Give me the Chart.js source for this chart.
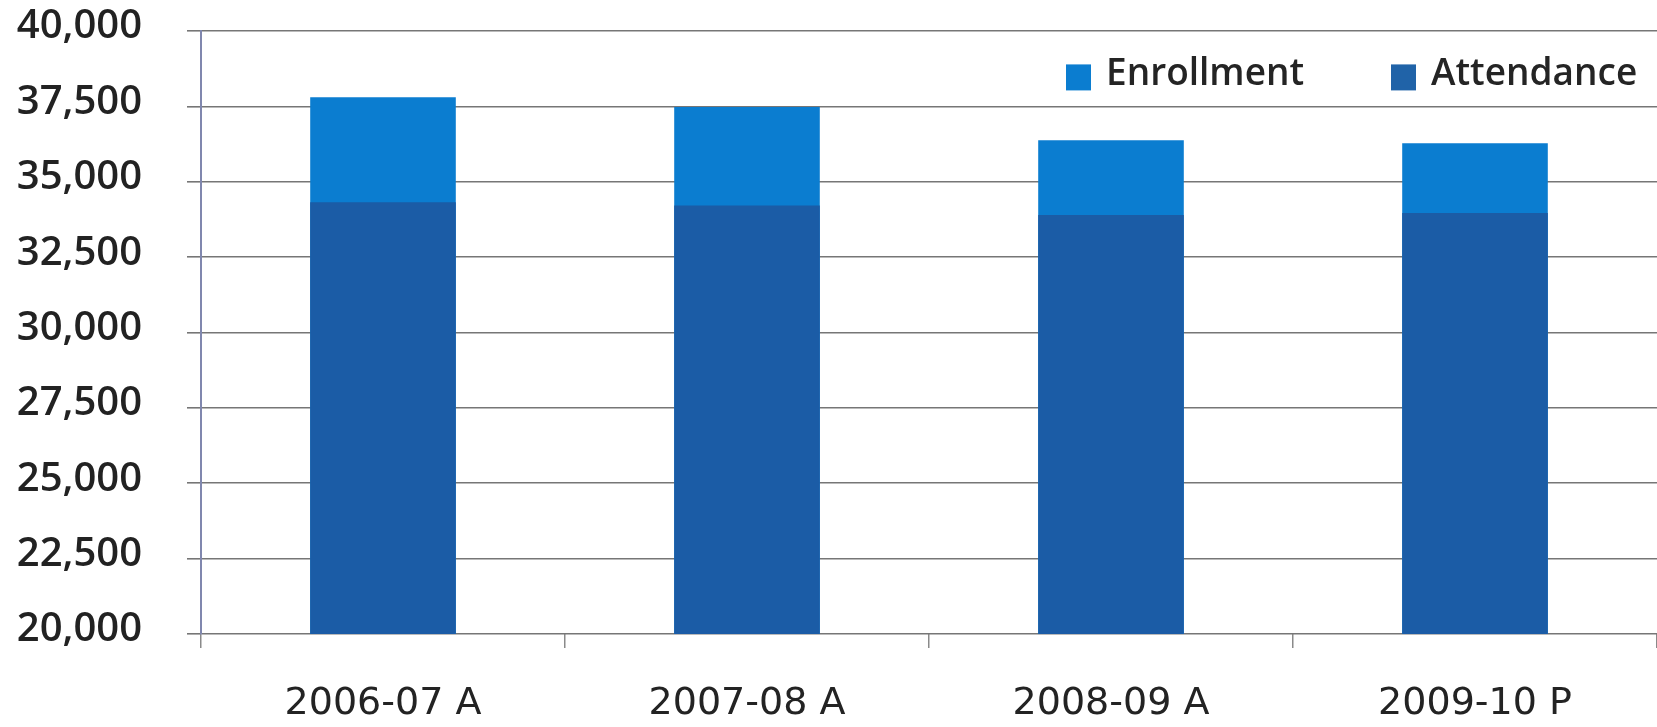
<!DOCTYPE html>
<html>
<head>
<meta charset="utf-8">
<script src="https://cdn.jsdelivr.net/npm/chart.js@4.4.1/dist/chart.umd.min.js"></script>
<style>
  html, body { margin: 0; padding: 0; background: #ffffff; }
  #wrap { width: 1657px; height: 727px; position: relative; }
</style>
</head>
<body>
<div id="wrap"><canvas id="c"></canvas></div>
<script>
const categories = ["2006-07 A", "2007-08 A", "2008-09 A", "2009-10 P"];
const enrollment = [37800, 37480, 36380, 36280];
const attendance = [34320, 34210, 33900, 33960];
const seriesNames = ["Enrollment", "Attendance"];
const yMin = 20000, yMax = 40000, yStep = 2500;

const colEnroll = "#0b7dd0";
const colAttend = "#1b5ca6";
const FONT = "'Open Sans', 'DejaVu Sans', sans-serif";

const legendPlugin = {
  id: "insideLegend",
  afterDraw(chart) {
    const ctx = chart.ctx;
    const y = chart.scales.y.getPixelForValue(38560);
    const items = [
      { text: seriesNames[0], color: colEnroll, x: 1066 },
      { text: seriesNames[1], color: "#2063a8", x: 1391 }
    ];
    ctx.save();
    ctx.font = "600 37px " + FONT;
    ctx.textBaseline = "middle";
    items.forEach(it => {
      ctx.fillStyle = it.color;
      ctx.fillRect(it.x, y - 10, 25, 26);
      ctx.fillStyle = "#242424";
      ctx.fillText(it.text, it.x + 40, y);
    });
    ctx.restore();
  }
};

new Chart(document.getElementById("c"), {
  type: "bar",
  data: {
    labels: categories,
    datasets: [
      { label: seriesNames[1], data: attendance, backgroundColor: colAttend, borderWidth: 0 },
      { label: seriesNames[0], data: enrollment, backgroundColor: colEnroll, borderWidth: 0 }
    ]
  },
  options: {
    responsive: true,
    maintainAspectRatio: false,
    animation: false,
    devicePixelRatio: 1,
    layout: { padding: { top: 31, right: 0, bottom: 0, left: 0 } },
    datasets: { bar: { categoryPercentage: 1.0, barPercentage: 0.4 } },
    plugins: {
      legend: { display: false },
      tooltip: { enabled: false }
    },
    scales: {
      x: {
        stacked: true,
        afterFit(scale) { scale.height = 93; scale.paddingLeft = 0; scale.paddingRight = 0; },
        grid: {
          display: true,
          offset: true,
          drawOnChartArea: false,
          drawTicks: true,
          tickLength: 14,
          color: "#8a8a8a",
          lineWidth: 1.5
        },
        border: { display: false },
        ticks: {
          padding: 33,
          color: "#232323",
          font: { family: "'DejaVu Sans', sans-serif", size: 38, weight: "400" }
        }
      },
      y: {
        stacked: false,
        min: yMin,
        max: yMax,
        afterFit(scale) { scale.width = 201; scale.paddingTop = 0; scale.paddingBottom = 0; },
        grid: {
          color: "#767676",
          lineWidth: 1.6,
          tickLength: 14,
          drawTicks: true
        },
        border: { display: true, color: "#8087ae", width: 2 },
        ticks: {
          stepSize: yStep,
          padding: 45,
          color: "#222",
          labelOffset: -4,
          font: { family: FONT, size: 40, weight: "600" },
          callback: v => v.toLocaleString("en-US")
        }
      }
    }
  },
  plugins: [legendPlugin]
});
</script>
</body>
</html>
